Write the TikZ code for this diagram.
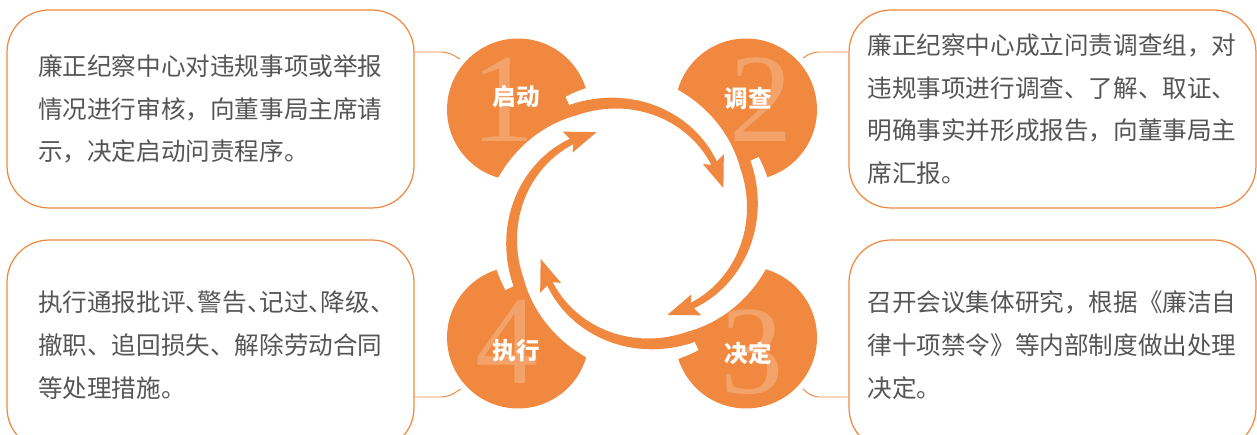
\documentclass[tikz,border=0pt]{standalone}
\usepackage{fontspec}
\setmainfont{Liberation Serif}
\newfontfamily\cjk{Noto Sans CJK SC}
\usetikzlibrary{positioning}
\definecolor{lzorange}{HTML}{F0883F}
\definecolor{lztext}{HTML}{555555}
% half-width enumeration comma
\newcommand{\halfdun}{\makebox[0.5em][l]{、}}

\begin{document}
\begin{tikzpicture}[x=0.02cm,y=0.02cm,
    stepcircle/.style={circle,fill=lzorange,minimum size=2.84cm,inner sep=0,outer sep=0.12cm},
    steplabel/.style={text=white,inner sep=0,font=\cjk\bfseries\fontsize{13.4pt}{16pt}\selectfont},
    stepnum/.style={text=white,text opacity=0.22,inner sep=0,font=\fontsize{72pt}{72pt}\selectfont},
    infobox/.style={draw=lzorange,line width=0.7pt,rounded corners=0.84cm,minimum width=8.14cm,
        align=left,text=lztext,font=\cjk\fontsize{14pt}{24.3pt}\selectfont},
    link/.style={draw=lzorange,line width=0.55pt,rounded corners=0.14cm}]
    \pgfmathsetmacro{\ringx}{632}
    \pgfmathsetmacro{\ringy}{211.5}
    \pgfmathsetmacro{\tailangle}{118.2}
    \useasboundingbox (0,0) rectangle (1257,435);
    \clip (0,0) rectangle (1257,435);
    \coordinate (O) at (\ringx,\ringy);

    \node[stepcircle] (c1) at (518,325.5) {};
    \node[stepcircle] (c2) at (746,325.5) {};
    \node[stepcircle] (c3) at (746,97.5) {};
    \node[stepcircle] (c4) at (518,97.5) {};

    \node[stepnum] (n1) at (503,335) {1};
    \node[stepnum] (n2) at (761,335) {2};
    \node[stepnum] (n3) at (752,83) {3};
    \node[stepnum] (n4) at (507,93) {4};

    % white gap round the ring, cut into the circles
    \fill[white,shift={(O)}] plot[domain=0:359.5,samples=720,variable=\t]
        ({\tailangle+\t}:{min(143,122+0.45*mod(\t,90))}) -- cycle;

    \foreach \a in {21.2,-68.8,-158.8,111.2}{
        \fill[lzorange,shift={(O)}]
            plot[domain=14:97,samples=40,variable=\d] ({\a+\d}:{97+0.32*\d+2.75+0.035*\d})
            -- plot[domain=97:14,samples=40,variable=\d] ({\a+\d}:{97+0.32*\d-2.75-0.035*\d}) -- cycle;
        \fill[lzorange,shift={(O)}] (\a:98) -- (\a+18.8:92.5) -- (\a+14.6:100) -- (\a+15.8:115) -- cycle;
    }

    \node[steplabel] (l1) at (516,338) {启动};
    \node[steplabel] (l2) at (748,336) {调查};
    \node[steplabel] (l3) at (748,82) {决定};
    \node[steplabel] (l4) at (516,84) {执行};

    \node[infobox,minimum height=3.96cm,text width=6.9cm] (b1) at (210.5,326)
        {廉正纪察中心对违规事项或举报\\情况进行审核，向董事局主席请\\示，决定启动问责程序。};
    \node[infobox,minimum height=3.96cm,text width=7.4cm] (b2) at (1052.5,326)
        {廉正纪察中心成立问责调查组，对\\违规事项进行调查、了解、取证、\\明确事实并形成报告，向董事局主\\席汇报。};
    \node[infobox,minimum height=4.2cm,text width=6.9cm] (b3) at (210.5,90)
        {执行通报批评\halfdun 警告\halfdun 记过\halfdun 降级\halfdun\\撤职、追回损失、解除劳动合同\\等处理措施。};
    \node[infobox,minimum height=4.2cm,text width=7.4cm] (b4) at (1052.5,90)
        {召开会议集体研究，根据《廉洁自\\律十项禁令》等内部制度做出处理\\决定。};

    \coordinate (k1) at (448,383);
    \coordinate (k2) at (812,383);
    \coordinate (k3) at (448,38);
    \coordinate (k4) at (812,38);
    \draw[link] (b1.east |- k1) -- (k1) -- (c1.139);
    \draw[link] (b2.west |- k2) -- (k2) -- (c2.42);
    \draw[link] (b3.east |- k3) -- (k3) -- (c4.222);
    \draw[link] (b4.west |- k4) -- (k4) -- (c3.318);
\end{tikzpicture}
\end{document}
